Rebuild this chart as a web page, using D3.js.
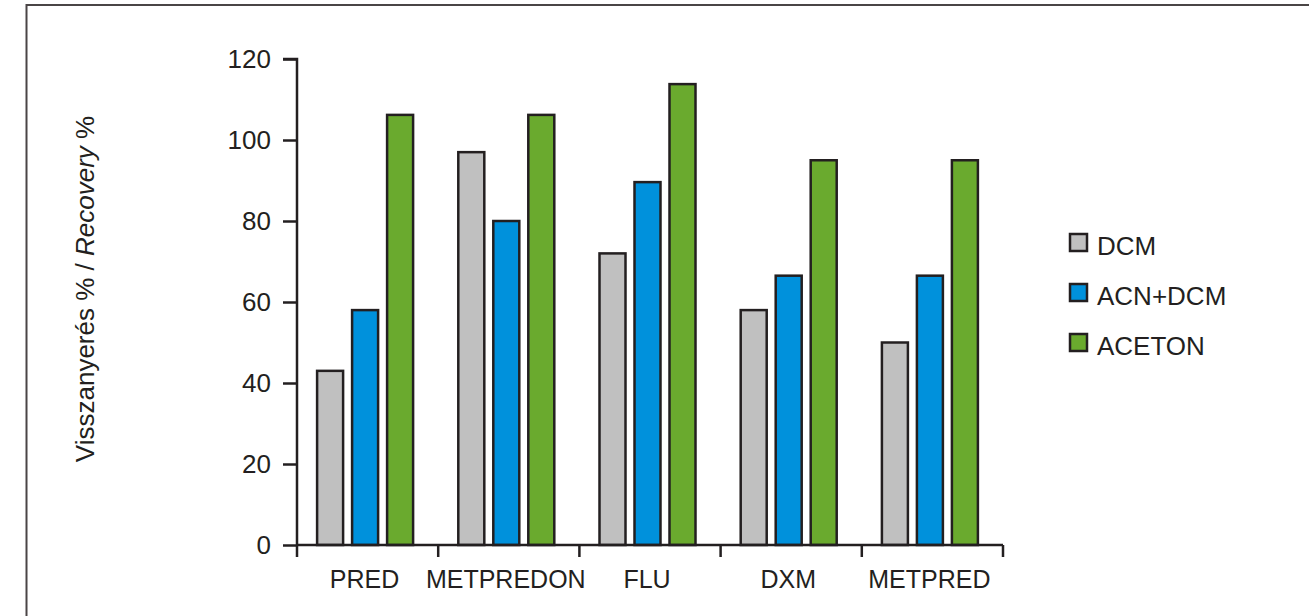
<!DOCTYPE html>
<html><head><meta charset="utf-8">
<script src="https://cdn.jsdelivr.net/npm/d3@7"></script>
<style>body{margin:0;background:#fff}svg{display:block}text{font-family:"Liberation Sans",Arial,Helvetica,sans-serif;fill:#231f20}</style>
</head><body>
<script>
const categories = ["PRED","METPREDON","FLU","DXM","METPRED"];
const seriesNames = ["DCM","ACN+DCM","ACETON"];
const dcm = [43, 97, 72, 58, 50];
const acnDcm = [58, 80, 89.6, 66.5, 66.5];
const aceton = [106.2, 106.2, 113.8, 95, 95];
const yTicks = [0,20,40,60,80,100,120];
const colors = ["#c0c0c0","#0091dc","#6aaa2e"];
const series = [dcm, acnDcm, aceton];

const W = 1309, H = 616;
const svg = d3.select("body").append("svg").attr("width", W).attr("height", H);

// frame
svg.append("path").attr("d", `M26.5,${H+5} L26.5,5 L${W+5},5`)
  .attr("fill","none").attr("stroke","#4a4546").attr("stroke-width",2);

const x0 = 297, x1 = 1003, y0 = 545, y1 = 59;
const x = d3.scaleBand().domain(categories).range([x0, x1]).padding(0);
const y = d3.scaleLinear().domain([0,120]).range([y0, y1]);
const groupW = 96;
const inner = d3.scaleBand().domain(seriesNames).range([0, groupW]).paddingInner(0.257);
const groupOffset = (x.bandwidth() - groupW) / 2 - 2.5;

const ink = "#231f20";
// bars
categories.forEach((c, i) => {
  series.forEach((s, j) => {
    svg.append("rect")
      .attr("x", x(c) + groupOffset + inner(seriesNames[j]))
      .attr("y", y(s[i]))
      .attr("width", inner.bandwidth())
      .attr("height", y(0) - y(s[i]))
      .attr("fill", colors[j]).attr("stroke", ink).attr("stroke-width", 2.5);
  });
});

// y axis
const yAxis = svg.append("g").attr("transform", `translate(${x0},0)`)
  .call(d3.axisLeft(y).tickValues(yTicks).tickSize(14).tickPadding(12));
yAxis.select(".domain").attr("stroke", ink).attr("stroke-width", 2.5).attr("d", `M-14,${y1}H0V${y0}`);
yAxis.selectAll(".tick line").attr("stroke", ink).attr("stroke-width", 2.5);
yAxis.selectAll(".tick text").attr("font-size", 26).attr("fill", ink)
  .attr("font-family", '"Liberation Sans",Arial,sans-serif');

// x axis
const xAxis = svg.append("g").attr("transform", `translate(0,${y0})`);
xAxis.append("path").attr("d", `M${x0},0H${x1}`).attr("stroke", ink).attr("stroke-width", 2.5);
const tickXs = categories.map(c => x(c)).concat([x1]);
xAxis.selectAll("line.tk").data(tickXs).join("line")
  .attr("x1", d => d).attr("x2", d => d).attr("y1", 0).attr("y2", 12)
  .attr("stroke", ink).attr("stroke-width", 2.5);
xAxis.selectAll("text").data(categories).join("text")
  .attr("x", d => x(d) + x.bandwidth()/2 - 3)
  .attr("y", 43).attr("text-anchor","middle").attr("font-size", 25)
  .text(d => d);

// y title
const t = svg.append("text").attr("transform", "translate(94,289) rotate(-90)")
  .attr("text-anchor","middle").attr("font-size", 26);
t.append("tspan").text("Visszanyerés % / ");
t.append("tspan").attr("font-style","italic").text("Recovery");
t.append("tspan").text(" %");

// legend
const lg = svg.append("g");
seriesNames.forEach((n, j) => {
  const cy = 243 + j * 50;
  lg.append("rect").attr("x", 1070).attr("y", cy - 9).attr("width", 17).attr("height", 17)
    .attr("fill", colors[j]).attr("stroke", ink).attr("stroke-width", 2.5);
  lg.append("text").attr("x", 1097).attr("y", cy + 12).attr("font-size", 26).text(n);
});
</script>
</body></html>
